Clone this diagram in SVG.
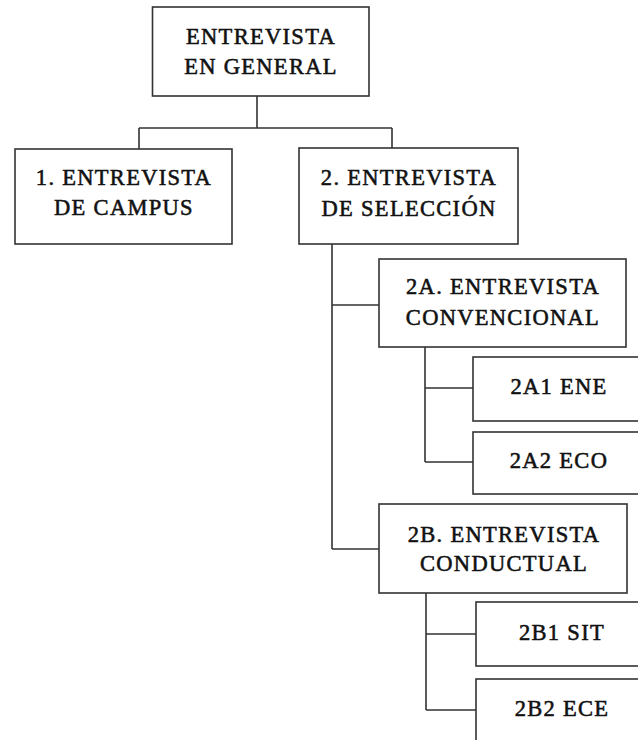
<svg xmlns="http://www.w3.org/2000/svg" width="638" height="740" viewBox="0 0 638 740">
  <style>
    .box { fill: #ffffff; stroke: #333333; stroke-width: 1.6; }
    .link { fill: none; stroke: #333333; stroke-width: 1.6; }
    .lbl { font-family: "Liberation Serif", "Times New Roman", serif; font-size: 22.5px; letter-spacing: 1.3px; fill: #111111; text-anchor: middle; stroke: #111111; stroke-width: 0.55; }
  </style>
  <rect width="638" height="740" fill="#ffffff"/>

  <!-- connectors -->
  <g id="connectors">
    <path class="link" d="M257 96 V128 M139 128 H392 M139 128 V149 M392 128 V148"/>
    <path class="link" d="M332 244 V549 M332 305 H379 M332 549 H379"/>
    <path class="link" d="M425 347 V462 M425 388 H473 M425 462 H473"/>
    <path class="link" d="M426 593 V710 M426 634 H476 M426 710 H476"/>
  </g>

  <g id="root">
    <rect class="box" x="152.5" y="7" width="216.5" height="89"/>
    <text class="lbl" x="261" y="44">ENTREVISTA</text>
    <text class="lbl" x="261" y="74">EN GENERAL</text>
  </g>

  <g id="campus">
    <rect class="box" x="15" y="149" width="217" height="95"/>
    <text class="lbl" x="124" y="185">1. ENTREVISTA</text>
    <text class="lbl" x="124" y="215">DE CAMPUS</text>
  </g>

  <g id="seleccion">
    <rect class="box" x="299" y="148" width="219" height="96"/>
    <text class="lbl" x="409" y="185">2. ENTREVISTA</text>
    <text class="lbl" x="409" y="216">DE SELECCIÓN</text>
  </g>

  <g id="convencional">
    <rect class="box" x="379" y="259" width="247" height="88"/>
    <text class="lbl" x="503" y="294">2A. ENTREVISTA</text>
    <text class="lbl" x="503" y="325">CONVENCIONAL</text>
  </g>

  <g id="ene">
    <rect class="box" x="473" y="357" width="200" height="64"/>
    <text class="lbl" x="559" y="394">2A1 ENE</text>
  </g>

  <g id="eco">
    <rect class="box" x="473" y="432" width="200" height="62"/>
    <text class="lbl" x="559" y="468">2A2 ECO</text>
  </g>

  <g id="conductual">
    <rect class="box" x="379" y="504" width="248" height="89"/>
    <text class="lbl" x="504" y="542">2B. ENTREVISTA</text>
    <text class="lbl" x="504" y="571">CONDUCTUAL</text>
  </g>

  <g id="sit">
    <rect class="box" x="476" y="602" width="200" height="64"/>
    <text class="lbl" x="562" y="640">2B1 SIT</text>
  </g>

  <g id="ece">
    <rect class="box" x="476" y="679" width="200" height="100"/>
    <text class="lbl" x="562" y="716">2B2 ECE</text>
  </g>
</svg>
